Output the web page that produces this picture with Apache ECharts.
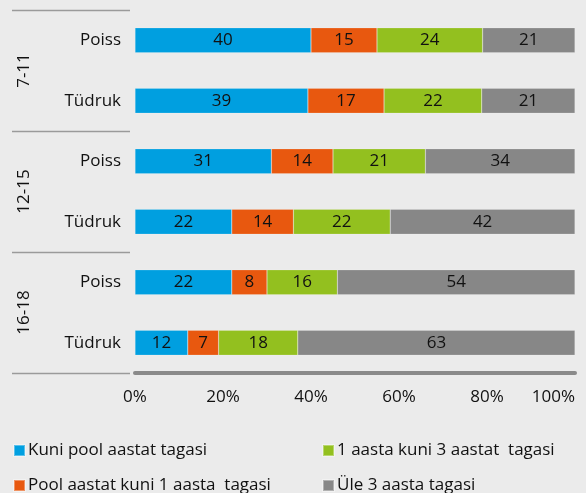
<!DOCTYPE html>
<html>
<head>
<meta charset="utf-8">
<script src="https://cdn.jsdelivr.net/npm/echarts@6/dist/echarts.min.js"></script>
<style>
  html, body { margin: 0; padding: 0; background: #ebebeb; }
  #chart { width: 586px; height: 493px; }
</style>
</head>
<body>
<div id="chart"></div>
<script>
// rows top to bottom
const rows = ['Poiss', 'Tüdruk', 'Poiss', 'Tüdruk', 'Poiss', 'Tüdruk']
const groups = ['7-11', '12-15', '16-18']
const seriesNames = [
  'Kuni pool aastat tagasi',
  'Pool aastat kuni 1 aasta  tagasi',
  '1 aasta kuni 3 aastat  tagasi',
  'Üle 3 aasta tagasi'
]
const kuniPool = [40, 39.3, 31, 22, 22, 12]
const poolAastat = [15, 17.3, 14, 14, 8, 7]
const uksKolm = [24, 22.2, 21, 22, 16, 18]
const ule3 = [21, 21.2, 34, 42, 54, 63]
const xTicks = [0, 20, 40, 60, 80, 100]
const colors = ['#009fe0', '#e8580f', '#93c01f', '#878787']

const font = '"Open Sans", "Noto Sans", sans-serif'
const chart = echarts.init(document.getElementById('chart'), null, { renderer: 'canvas' })

const mkSeries = (name, data, color) => ({
  name,
  type: 'bar',
  stack: 'total',
  data,
  barWidth: 25,
  itemStyle: { color, borderColor: 'rgba(255,255,255,0.35)', borderWidth: 0.5 },
  label: {
    show: true,
    position: 'inside',
    color: '#111',
    fontFamily: font,
    fontSize: 17,
    formatter: p => Math.round(p.value)
  }
})

// one legend per entry, laid out in two columns
const legendPos = [[8, 437], [8, 472], [317, 437], [317, 472]]
const legends = seriesNames.map((name, i) => ({
  data: [name],
  left: legendPos[i][0],
  top: legendPos[i][1],
  icon: 'rect',
  itemWidth: 11,
  itemHeight: 11,
  itemGap: 0,
  textStyle: { fontFamily: font, fontSize: 17, color: '#111', padding: [0, 0, 0, -2] }
}))

const option = {
  backgroundColor: '#ebebeb',
  animation: false,
  grid: { left: 135, right: 11, top: 10, bottom: 120, containLabel: false, outerBoundsMode: 'none' },
  legend: legends,
  xAxis: {
    type: 'value',
    min: xTicks[0],
    max: xTicks[xTicks.length - 1],
    interval: 20,
    splitLine: { show: false },
    axisTick: { show: false },
    axisLine: { show: true, lineStyle: { color: '#8a8a8a', width: 4 } },
    axisLabel: {
      formatter: '{value}%',
      fontFamily: font,
      fontSize: 17,
      color: '#111',
      margin: 16,
      alignMaxLabel: 'right'
    }
  },
  yAxis: {
    type: 'category',
    data: rows,
    inverse: true,
    axisLine: { show: false },
    axisTick: { show: false },
    axisLabel: { fontFamily: font, fontSize: 17, color: '#111', margin: 14 }
  },
  series: [
    mkSeries(seriesNames[0], kuniPool, colors[0]),
    mkSeries(seriesNames[1], poolAastat, colors[1]),
    mkSeries(seriesNames[2], uksKolm, colors[2]),
    mkSeries(seriesNames[3], ule3, colors[3])
  ]
}

chart.setOption(option)

// group separators and rotated group labels (reading bottom to top), placed from the category axis
const step = chart.convertToPixel({ yAxisIndex: 0 }, 1) - chart.convertToPixel({ yAxisIndex: 0 }, 0)
const graphics = []
for (let g = 0; g <= groups.length; g++) {
  const y = Math.round(chart.convertToPixel({ yAxisIndex: 0 }, g * 2) - step / 2) + 0.5
  graphics.push({
    type: 'line',
    shape: { x1: 12, y1: y, x2: 130, y2: y },
    style: { stroke: '#9a9a9a', lineWidth: 1.5 }
  })
}
groups.forEach((name, g) => {
  const yc = (chart.convertToPixel({ yAxisIndex: 0 }, g * 2) + chart.convertToPixel({ yAxisIndex: 0 }, g * 2 + 1)) / 2
  graphics.push({
    type: 'text',
    x: 24,
    y: yc,
    rotation: Math.PI / 2,
    style: {
      text: name,
      fontFamily: font,
      fontSize: 17,
      fill: '#111',
      align: 'center',
      verticalAlign: 'middle'
    }
  })
})
chart.setOption({ graphic: graphics })
</script>
</body>
</html>
